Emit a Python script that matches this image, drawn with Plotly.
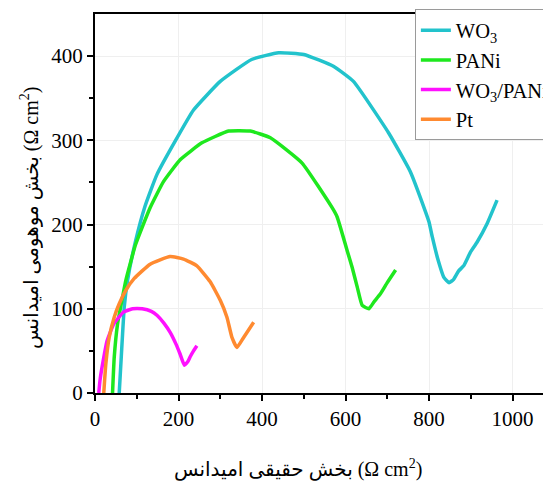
import plotly.graph_objects as go

# ---- data ----
wo3_x = [58, 62, 66, 70, 78, 97, 120, 148, 192, 236, 300, 375, 440, 500, 571, 619, 703, 755, 791, 800, 808, 820, 836, 848, 859, 871, 883, 899, 915, 939, 963]
wo3_y = [0, 35, 70, 102, 134, 180, 222, 259, 299, 336, 370, 396, 404, 402, 388, 370, 309, 263, 216, 203, 185, 161, 137, 131, 135, 145, 151, 167, 179, 201, 229]

pani_x = [42, 46, 54, 66, 74, 97, 132, 164, 204, 256, 320, 372, 420, 496, 568, 580, 604, 616, 628, 640, 656, 668, 684, 700, 720]
pani_y = [0, 42, 82, 114, 134, 176, 220, 251, 277, 297, 311, 311, 303, 273, 220, 209, 169, 149, 126, 104, 100, 108, 118, 131, 146]

wp_x = [9, 12, 17, 29, 45, 68, 90, 113, 135, 149, 165, 180, 194, 204, 214, 222, 228, 236, 244]
wp_y = [0, 15, 31, 62, 82, 96, 100, 100, 97, 92, 83, 72, 58, 46, 33, 37, 43, 50, 56]

pt_x = [21, 23, 26, 34, 46, 58, 74, 94, 132, 180, 212, 244, 276, 300, 316, 328, 340, 356, 380]
pt_y = [0, 15, 35, 66, 90, 106, 122, 136, 153, 162, 159, 151, 132, 110, 90, 66, 54, 66, 84]

names = ["WO<sub>3</sub>", "PANi", "WO<sub>3</sub>/PANi", "Pt"]
colors = ["#22c3cc", "#1ee81e", "#ff10ff", "#ff8a30"]

x_title = "بخش حقیقی امیدانس (Ω cm<sup>2</sup>)"
y_title = "بخش موهومی امیدانس (Ω cm<sup>2</sup>)"

FONT = "Liberation Serif, Times New Roman, DejaVu Sans, serif"

fig = go.Figure()
for xs, ys, nm, c in zip([wo3_x, pani_x, wp_x, pt_x], [wo3_y, pani_y, wp_y, pt_y], names, colors):
    fig.add_trace(go.Scatter(x=xs, y=ys, name=nm, mode="lines",
                             line=dict(color=c, width=3.5, shape="spline", smoothing=0.4)))

fig.update_layout(
    width=543, height=484,
    margin=dict(l=95, r=0, t=14, b=91, autoexpand=False),
    plot_bgcolor="white", paper_bgcolor="white",
    font=dict(family=FONT, size=21, color="black"),
    showlegend=True,
    legend=dict(x=0.714, y=1.012, xanchor="left", yanchor="top",
                bgcolor="white", bordercolor="#9a9a9a", borderwidth=1,
                font=dict(family=FONT, size=20.5, color="black"),
                tracegroupgap=0, itemwidth=30),
    xaxis=dict(range=[0, 1073], tickvals=[0, 200, 400, 600, 800, 1000],
               ticks="outside", ticklen=6, tickwidth=2, tickcolor="black",
               showline=True, linecolor="black", linewidth=2, mirror=True,
               showgrid=True, gridcolor="#efefef", gridwidth=1, zeroline=False,
               minor=dict(tickvals=[100, 300, 500, 700, 900], ticks="outside",
                          ticklen=4, tickwidth=2, tickcolor="black", showgrid=False),
               tickfont=dict(family=FONT, size=21)),
    yaxis=dict(range=[0, 450], tickvals=[0, 100, 200, 300, 400],
               ticks="outside", ticklen=6, tickwidth=2, tickcolor="black",
               showline=True, linecolor="black", linewidth=2, mirror=False,
               showgrid=True, gridcolor="#efefef", gridwidth=1, zeroline=False,
               minor=dict(tickvals=[50, 150, 250, 350], ticks="outside",
                          ticklen=4, tickwidth=2, tickcolor="black", showgrid=False),
               tickfont=dict(family=FONT, size=21)),
    annotations=[
        dict(text=x_title, xref="paper", yref="paper", x=0.453, y=-0.198,
             xanchor="center", yanchor="middle", showarrow=False,
             font=dict(family=FONT, size=20)),
        dict(text=y_title, xref="paper", yref="paper", x=-0.145, y=0.462,
             xanchor="center", yanchor="middle", showarrow=False, textangle=-90,
             font=dict(family=FONT, size=20)),
    ],
)

fig.write_html("out.html")
